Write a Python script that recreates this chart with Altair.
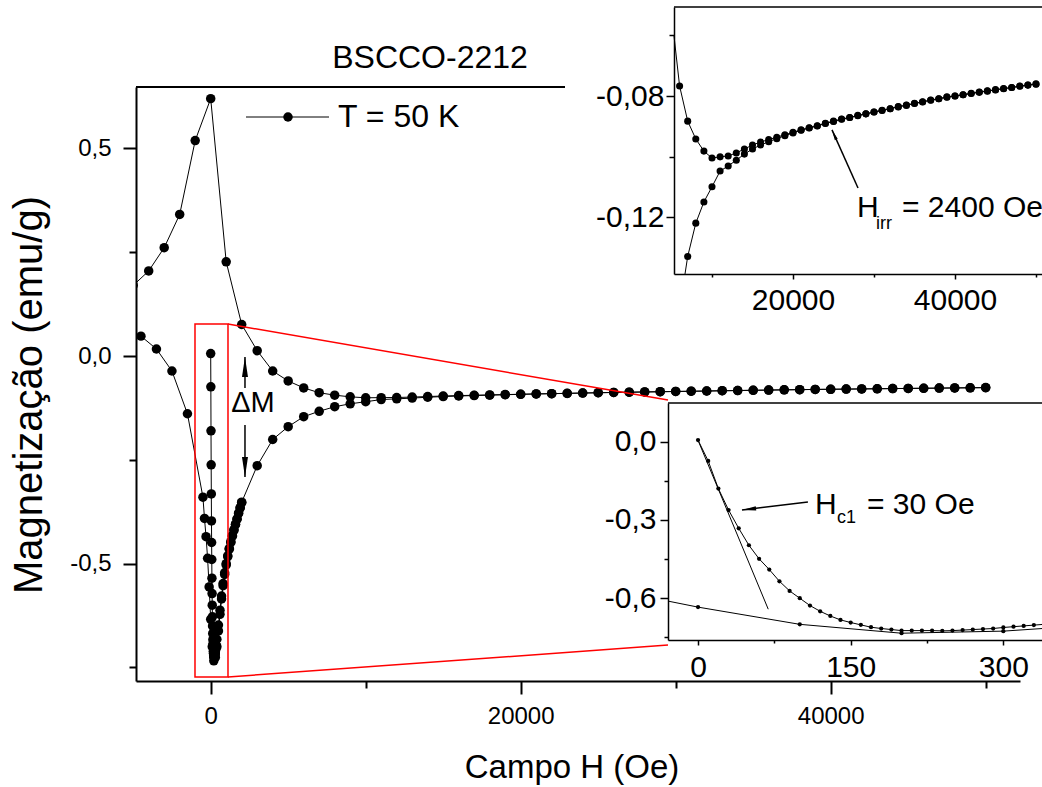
import altair as alt
import pandas as pd

FONT = "Liberation Sans"

# ---------------- data ----------------
virgin_low_H = list(range(0, 360, 10))
virgin_low_M = [0.006, -0.074, -0.180, -0.262, -0.332, -0.397, -0.449, -0.490, -0.535, -0.572,
                -0.600, -0.628, -0.650, -0.668, -0.683, -0.693, -0.702, -0.711, -0.716, -0.720,
                -0.724, -0.724, -0.724, -0.724, -0.725, -0.724, -0.722, -0.720, -0.718, -0.716,
                -0.712, -0.709, -0.706, -0.703, -0.700, -0.697]
virgin_mid_H = [400, 500, 600, 700, 800, 900, 1000, 1100, 1200, 1300, 1400, 1500, 1600, 1700, 1800, 1900, 2000]
virgin_mid_M = [-0.682, -0.648, -0.612, -0.578, -0.548, -0.522, -0.500, -0.481, -0.463, -0.447,
                -0.432, -0.418, -0.405, -0.392, -0.378, -0.365, -0.352]
virgin_high_H = list(range(3000, 51000, 1000))
virgin_high_M = [-0.264, -0.201, -0.170, -0.146, -0.133, -0.122, -0.115, -0.110, -0.1048, -0.1031,
                 -0.1012, -0.0992, -0.0975, -0.0962, -0.0951, -0.0941, -0.0931, -0.0922, -0.0913, -0.0906,
                 -0.0899, -0.0891, -0.0884, -0.0877, -0.0871, -0.0865, -0.0859, -0.0853, -0.0848, -0.0842,
                 -0.0836, -0.0831, -0.0825, -0.0820, -0.0814, -0.0809, -0.0804, -0.0800, -0.0796, -0.0792,
                 -0.0788, -0.0784, -0.0780, -0.0776, -0.0772, -0.0768, -0.0764, -0.0761]
upper_H = list(range(50000, -6000, -1000))
upper_M = [-0.0760, -0.0764, -0.0767, -0.0772, -0.0775, -0.0779, -0.0783, -0.0787, -0.0791, -0.0796,
           -0.0800, -0.0803, -0.0809, -0.0813, -0.0819, -0.0824, -0.0830, -0.0835, -0.0842, -0.0847,
           -0.0853, -0.0859, -0.0864, -0.0871, -0.0876, -0.0883, -0.0890, -0.0898, -0.0905, -0.0912,
           -0.0920, -0.0928, -0.0936, -0.0944, -0.0952, -0.0962, -0.0975, -0.0988, -0.0998, -0.1001,
           -0.1005, -0.0982, -0.0942, -0.0883, -0.0767, -0.060, -0.036, 0.013, 0.076, 0.227,
           0.620, 0.519, 0.341, 0.261, 0.205, 0.170]
return_H = [-4500, -3500, -2500, -1500, -500, -400, -300, -200, -100, 0, 100, 200, 300,
            400, 500, 600, 700, 800, 900, 1000, 1100, 1200, 1300, 1400, 1500, 1600, 1700, 1800, 1900, 2000]
return_M = [0.048, 0.017, -0.036, -0.139, -0.340, -0.391, -0.435, -0.487, -0.556, -0.634, -0.700, -0.734, -0.726,
            -0.700, -0.662, -0.622, -0.585, -0.553, -0.526, -0.503, -0.483, -0.465, -0.449, -0.434, -0.420,
            -0.406, -0.393, -0.379, -0.366, -0.353]
up_inset_edge_upper = (5309, -0.0602)
up_inset_edge_lower = (6667, -0.1388)
lo_inset_edge_return = (-29.5, -0.611)
tangent_H = [0, 69]
tangent_M = [0.005, -0.642]

main_x_minor = [10000, 30000, 50000]
main_x_major = [0, 20000, 40000]
main_x_labels = ["0", "20000", "40000"]
main_y_minor = [-0.75, -0.25, 0.25]
main_y_major = [-0.5, 0.0, 0.5]
main_y_labels = ["-0,5", "0,0", "0,5"]
up_x_minor = [10000, 30000, 50000]
up_x_major = [20000, 40000]
up_x_labels = ["20000", "40000"]
up_y_minor = [-0.1, -0.06]
up_y_major = [-0.12, -0.08]
up_y_labels = ["-0,12", "-0,08"]
lo_x_minor = [75, 225]
lo_x_major = [0, 150, 300]
lo_x_labels = ["0", "150", "300"]
lo_y_minor = [-0.75, -0.45, -0.15]
lo_y_major = [-0.6, -0.3, 0.0]
lo_y_labels = ["-0,6", "-0,3", "0,0"]


def table(series):
    rows = []
    for name, hs, ms in series:
        for i, (h, m) in enumerate(zip(hs, ms)):
            rows.append({"branch": name, "ord": i, "H": h, "M": m})
    return pd.DataFrame(rows)


main_df = table([
    ("virgin", virgin_low_H + virgin_mid_H + virgin_high_H, virgin_low_M + virgin_mid_M + virgin_high_M),
    ("upper", upper_H, upper_M),
    ("return", return_H, return_M),
])
up_upper = [(h, m) for h, m in zip(upper_H, upper_M) if h >= 6000]
up_lower = [(h, m) for h, m in zip(virgin_high_H, virgin_high_M) if h >= 7000]
up_line_df = table([
    ("upper", [h for h, _ in up_upper] + [up_inset_edge_upper[0]], [m for _, m in up_upper] + [up_inset_edge_upper[1]]),
    ("lower", [up_inset_edge_lower[0]] + [h for h, _ in up_lower], [up_inset_edge_lower[1]] + [m for _, m in up_lower]),
])
up_pt_df = table([("upper", [h for h, _ in up_upper], [m for _, m in up_upper]),
                  ("lower", [h for h, _ in up_lower], [m for _, m in up_lower])])
ret_low = [(h, m) for h, m in zip(return_H, return_M) if 0 <= h <= 400]
lo_line_df = table([
    ("virgin", virgin_low_H + virgin_mid_H[:2], virgin_low_M + virgin_mid_M[:2]),
    ("return", [lo_inset_edge_return[0]] + [h for h, _ in ret_low], [lo_inset_edge_return[1]] + [m for _, m in ret_low]),
    ("tangent", tangent_H, tangent_M),
])
lo_pt_df = table([
    ("virgin", virgin_low_H, virgin_low_M),
    ("return", [h for h, _ in ret_low if h <= 300], [m for h, m in ret_low if h <= 300]),
])

W, Hh = 884, 594
ARROW = "M0,0L0.3,2L-0.3,2Z"
dummy = pd.DataFrame({"a": [0]})
NOVIEW = alt.ViewBackground(stroke="transparent", strokeWidth=0)


def label_expr(vals, labels):
    expr = "''"
    for v, l in reversed(list(zip(vals, labels))):
        expr = f"datum.value == {v} ? '{l}' : ({expr})"
    return expr


def major_axis(orient, major, labels, size, fs, pad, width, offset=0):
    return alt.Axis(orient=orient, values=major, labelExpr=label_expr(major, labels), tickSize=size,
                    labelFont=FONT, labelFontSize=fs, labelColor="black", labelPadding=pad,
                    domainColor="black", domainWidth=width, tickColor="black", tickWidth=width,
                    grid=False, title=None, offset=offset, zindex=2, labelOverlap=False)


def minor_axis(orient, minor, size, width, offset=0):
    return alt.Axis(orient=orient, values=minor, labels=False, domain=False, tickSize=size,
                    tickColor="black", tickWidth=width, grid=False, title=None, offset=offset, zindex=2)


def axis_holder(xs, ys, xa, ya):
    # invisible mark that only carries an axis pair for a given scale pair
    return alt.Chart(dummy).mark_point(opacity=0).encode(
        x=alt.X(datum=xs.domain[0], type="quantitative", scale=xs, axis=xa),
        y=alt.Y(datum=ys.domain[0], type="quantitative", scale=ys, axis=ya))


def txt(s, x, y, fs, align="left", baseline="alphabetic", angle=0):
    return alt.Chart(pd.DataFrame({"t": [s]})).mark_text(
        font=FONT, fontSize=fs, align=align, baseline=baseline, color="black", angle=angle
    ).encode(x=alt.value(x), y=alt.value(y), text="t:N")


def arrow(df_pts, xs, ys, size, angle, width=1.5):
    line = alt.Chart(df_pts).mark_line(color="black", strokeWidth=width).encode(
        x=alt.X("H:Q", scale=xs, axis=None), y=alt.Y("M:Q", scale=ys, axis=None), order="ord:Q")
    head = alt.Chart(df_pts[df_pts["ord"] == df_pts["ord"].max()]).mark_point(
        shape=ARROW, filled=True, color="black", opacity=1, size=size, angle=angle, strokeWidth=0
    ).encode(x=alt.X("H:Q", scale=xs, axis=None), y=alt.Y("M:Q", scale=ys, axis=None))
    return [line, head]


# ---------------- main plot ----------------
xs_main = alt.Scale(domain=[-4819, 52213], range=[0, W], nice=False, zero=False)
ys_main = alt.Scale(domain=[-0.7826, 0.648], range=[Hh, 0], nice=False, zero=False)

main_lines = alt.Chart(main_df).mark_line(color="black", strokeWidth=1, clip=True).encode(
    x=alt.X("H:Q", scale=xs_main, axis=None), y=alt.Y("M:Q", scale=ys_main, axis=None),
    detail="branch:N", order="ord:Q")
main_pts = alt.Chart(main_df).mark_circle(color="black", size=90, opacity=1, clip=True).encode(
    x=alt.X("H:Q", scale=xs_main, axis=None), y=alt.Y("M:Q", scale=ys_main, axis=None))

top_border = alt.Chart(dummy).mark_rule(color="black", strokeWidth=2).encode(
    x=alt.value(0), x2=alt.value(440), y=alt.value(0))
bg_up = alt.Chart(dummy).mark_rect(color="white", opacity=1).encode(
    x=alt.value(429), x2=alt.value(920), y=alt.value(-95), y2=alt.value(243))
bg_lo = alt.Chart(dummy).mark_rect(color="white", opacity=1).encode(
    x=alt.value(462), x2=alt.value(920), y=alt.value(313), y2=alt.value(589))
bg_right = alt.Chart(dummy).mark_rect(color="white", opacity=1).encode(
    x=alt.value(870), x2=alt.value(920), y=alt.value(230), y2=alt.value(320))

red_box = alt.Chart(dummy).mark_rect(fillOpacity=0, stroke="red", strokeWidth=1.5).encode(
    x=alt.X(datum=-1013, type="quantitative", scale=xs_main, axis=None), x2=alt.X2(datum=1116),
    y=alt.Y(datum=0.077, type="quantitative", scale=ys_main, axis=None), y2=alt.Y2(datum=-0.773))
red_l1 = alt.Chart(dummy).mark_rule(color="red", strokeWidth=1.5).encode(
    x=alt.X(datum=1116, type="quantitative", scale=xs_main, axis=None),
    y=alt.Y(datum=0.077, type="quantitative", scale=ys_main, axis=None),
    x2=alt.value(532), y2=alt.value(313))
red_l2 = alt.Chart(dummy).mark_rule(color="red", strokeWidth=1.5).encode(
    x=alt.X(datum=1116, type="quantitative", scale=xs_main, axis=None),
    y=alt.Y(datum=-0.773, type="quantitative", scale=ys_main, axis=None),
    x2=alt.value(532), y2=alt.value(558))

leg_line = alt.Chart(dummy).mark_rule(color="black", strokeWidth=1).encode(
    x=alt.value(110), x2=alt.value(193), y=alt.value(30))
leg_dot = alt.Chart(dummy).mark_circle(color="black", size=90, opacity=1).encode(
    x=alt.value(152), y=alt.value(30))

dm_up = pd.DataFrame({"H": [2212, 2212], "M": [-0.077, -0.002], "ord": [0, 1]})
dm_dn = pd.DataFrame({"H": [2212, 2212], "M": [-0.166, -0.291], "ord": [0, 1]})

main_group = alt.layer(
    bg_right, main_lines, main_pts, top_border, bg_up, bg_lo, red_box, red_l1, red_l2,
    leg_line, leg_dot,
    txt("T = 50 K", 202, 30, 32, baseline="middle"),
    txt("BSCCO-2212", 294, -29, 32, align="center", baseline="middle"),
    txt("Campo H (Oe)", 436, 681, 33, align="center", baseline="middle"),
    txt("Magnetização (emu/g)", -106, 308, 40, align="center", baseline="middle", angle=270),
    txt("ΔM", 117, 316, 29, align="center", baseline="middle"),
    *arrow(dm_up, xs_main, ys_main, 400, 0),
    *arrow(dm_dn, xs_main, ys_main, 400, 180),
    view=NOVIEW,
)
main_major = axis_holder(xs_main, ys_main,
                         major_axis("bottom", main_x_major, main_x_labels, 13, 24, 10, 2),
                         major_axis("left", main_y_major, main_y_labels, 13, 24, 12, 2))
main_minor = axis_holder(xs_main, ys_main,
                         minor_axis("bottom", main_x_minor, 7, 2),
                         minor_axis("left", main_y_minor, 7, 2))

# ---------------- upper inset (high field) ----------------
xs_up = alt.Scale(domain=[5309, 50741], range=[538, 906], nice=False, zero=False)
ys_up = alt.Scale(domain=[-0.1388, -0.0506], range=[187, -80], nice=False, zero=False)
up_lines = alt.Chart(up_line_df).mark_line(color="black", strokeWidth=1).encode(
    x=alt.X("H:Q", scale=xs_up, axis=None), y=alt.Y("M:Q", scale=ys_up, axis=None),
    detail="branch:N", order="ord:Q")
up_pts = alt.Chart(up_pt_df).mark_circle(color="black", size=50, opacity=1).encode(
    x=alt.X("H:Q", scale=xs_up, axis=None), y=alt.Y("M:Q", scale=ys_up, axis=None))
up_top = alt.Chart(dummy).mark_rule(color="black", strokeWidth=1.5).encode(
    x=alt.value(538), x2=alt.value(910), y=alt.value(-80))
irr_arrow = pd.DataFrame({"H": [28025, 24815], "M": [-0.1104, -0.0912], "ord": [0, 1]})
up_group = alt.layer(
    up_lines, up_pts, up_top, *arrow(irr_arrow, xs_up, ys_up, 110, 336),
    txt("H", 721, 130, 30), txt("irr", 740, 142, 18), txt("= 2400 Oe", 766, 130, 30),
    view=NOVIEW,
)
up_major = axis_holder(xs_up, ys_up,
                       major_axis("bottom", up_x_major, up_x_labels, 5, 30, 6, 1.5, offset=187 - Hh),
                       major_axis("left", up_y_major, up_y_labels, 8, 30, 2, 1.5, offset=-538))
up_minor = axis_holder(xs_up, ys_up,
                       minor_axis("bottom", up_x_minor, 3, 1.5, offset=187 - Hh),
                       minor_axis("left", up_y_minor, 5, 1.5, offset=-538))

# ---------------- lower inset (low field) ----------------
xs_lo = alt.Scale(domain=[-29.5, 338], range=[532, 906], nice=False, zero=False)
ys_lo = alt.Scale(domain=[-0.760, 0.148], range=[553, 316], nice=False, zero=False)
lo_lines = alt.Chart(lo_line_df).mark_line(color="black", strokeWidth=1).encode(
    x=alt.X("H:Q", scale=xs_lo, axis=None), y=alt.Y("M:Q", scale=ys_lo, axis=None),
    detail="branch:N", order="ord:Q")
lo_pts = alt.Chart(lo_pt_df).mark_circle(color="black", size=18, opacity=1).encode(
    x=alt.X("H:Q", scale=xs_lo, axis=None), y=alt.Y("M:Q", scale=ys_lo, axis=None))
lo_top = alt.Chart(dummy).mark_rule(color="black", strokeWidth=1.5).encode(
    x=alt.value(532), x2=alt.value(910), y=alt.value(316))
hc_arrow = pd.DataFrame({"H": [108, 43.2], "M": [-0.231, -0.262], "ord": [0, 1]})
lo_group = alt.layer(
    lo_lines, lo_pts, lo_top, *arrow(hc_arrow, xs_lo, ys_lo, 200, 263),
    txt("H", 679, 427, 30), txt("c1", 701, 436, 18), txt("= 30 Oe", 731, 427, 30),
    view=NOVIEW,
)
lo_major = axis_holder(xs_lo, ys_lo,
                       major_axis("bottom", lo_x_major, lo_x_labels, 5, 30, 7, 1.5, offset=553 - Hh),
                       major_axis("left", lo_y_major, lo_y_labels, 8, 30, 4, 1.5, offset=-532))
lo_minor = axis_holder(xs_lo, ys_lo,
                       minor_axis("bottom", lo_x_minor, 3, 1.5, offset=553 - Hh),
                       minor_axis("left", lo_y_minor, 4, 1.5, offset=-532))

chart = alt.layer(main_group, main_major, main_minor, up_group, up_major, up_minor,
                  lo_group, lo_major, lo_minor).resolve_scale(
    x="independent", y="independent"
).properties(
    width=W, height=Hh,
    padding={"left": 136, "top": 87, "right": 22, "bottom": 106},
    autosize=alt.AutoSizeParams(type="none"),
    background="white",
    view=NOVIEW,
).configure_view(strokeOpacity=0).configure(font=FONT)

chart.save("out.html", embed_options={"renderer": "svg", "actions": False})
